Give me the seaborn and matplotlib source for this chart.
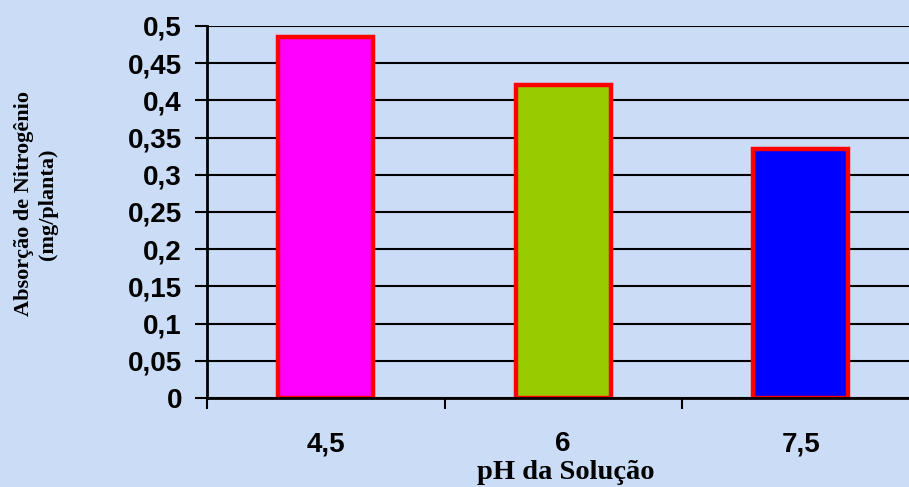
import matplotlib
matplotlib.use("Agg")
import matplotlib.pyplot as plt
import seaborn as sns

ph_labels = ["4,5", "6", "7,5"]
absorcao = [0.485, 0.421, 0.335]
bar_colors = ["#FF00FF", "#99CC00", "#0000FF"]
y_ticks = [0, 0.05, 0.1, 0.15, 0.2, 0.25, 0.3, 0.35, 0.4, 0.45, 0.5]
y_tick_labels = ["0", "0,05", "0,1", "0,15", "0,2", "0,25", "0,3", "0,35", "0,4", "0,45", "0,5"]

sns.set_style("white")
plt.rcParams['font.family'] = ['Liberation Sans', 'DejaVu Sans']
plt.rcParams['text.color'] = 'black'
plt.rcParams['xtick.color'] = 'black'
plt.rcParams['ytick.color'] = 'black'
plt.rcParams['axes.labelcolor'] = 'black'

bg = "#CADCF6"
fig = plt.figure(figsize=(9.09, 4.87), dpi=100, facecolor=bg)
ax = fig.add_axes([207 / 909, 1 - 398 / 487, 712.5 / 909, 372 / 487])
ax.set_facecolor(bg)

sns.barplot(x=ph_labels, y=absorcao, hue=ph_labels, palette=bar_colors,
            width=0.4, edgecolor="#FF0000", linewidth=3.2, saturation=1,
            legend=False, ax=ax)

ax.set_ylim(0, 0.5)
ax.set_xlim(-0.5, 2.5)
ax.set_axisbelow(True)
ax.yaxis.grid(True, color="black", linewidth=1.5)
ax.set_yticks(y_ticks)
ax.set_yticklabels(y_tick_labels, fontsize=20, fontweight="bold")
ax.tick_params(axis="y", length=9, width=1.5, color="black", pad=9, left=True)

ax.set_xticks(range(len(ph_labels)))
ax.set_xticklabels(ph_labels, fontsize=20, fontweight="bold")
ax.tick_params(axis="x", which="major", length=0, pad=24)
ax.set_xticks([-0.5, 0.5, 1.5, 2.5], minor=True)
ax.tick_params(axis="x", which="minor", length=8, width=1.5, color="black", bottom=True)

for side in ["top", "right"]:
    ax.spines[side].set_visible(False)
ax.spines["left"].set_linewidth(2)
ax.spines["bottom"].set_linewidth(2)
ax.spines["left"].set_color("black")
ax.spines["bottom"].set_color("black")

ax.set_xlabel("pH da Solução", fontsize=20.5, fontweight="bold",
              family=["Liberation Serif", "DejaVu Serif"], labelpad=0)
ax.xaxis.set_label_coords((566 - 207) / 712.5, -(460 - 398) / 372)
ax.set_ylabel("Absorção de Nitrogênio\n(mg/planta)", fontsize=16, fontweight="bold",
              family=["Liberation Serif", "DejaVu Serif"], linespacing=1.25)
ax.yaxis.set_label_coords(-(207 - 58) / 712.5, (398 - 204) / 372)

fig.savefig("out.png", dpi=100, facecolor=bg)
